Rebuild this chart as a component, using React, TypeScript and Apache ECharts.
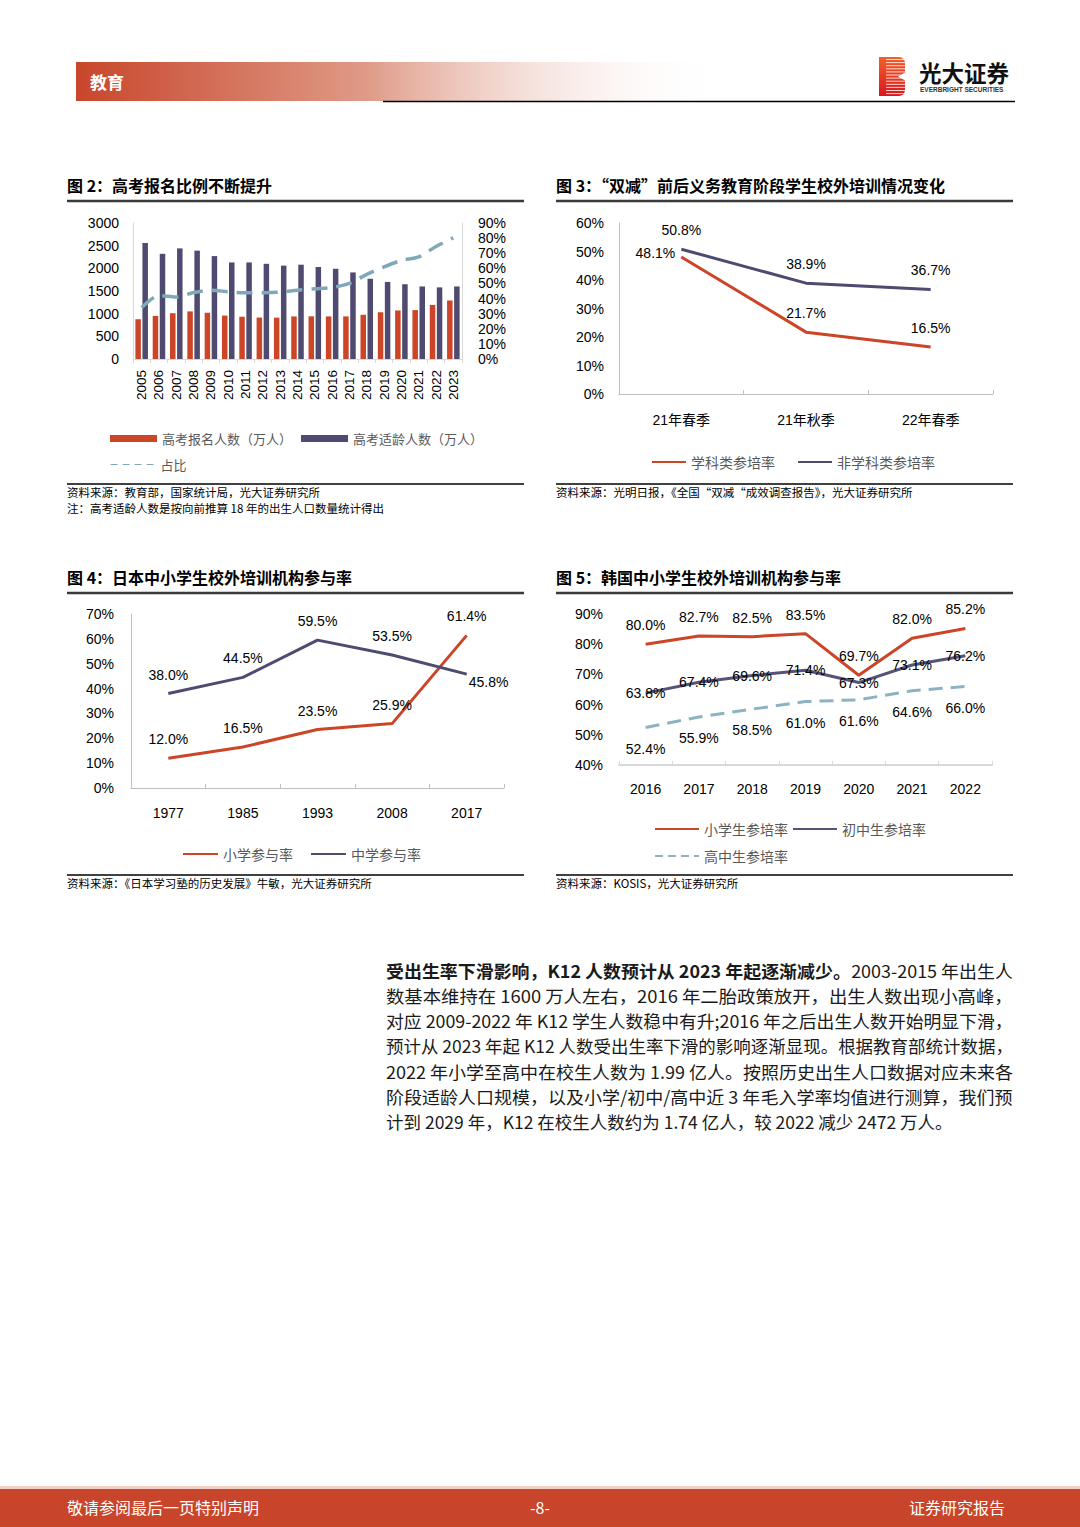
import React, { useEffect, useRef } from "react";
import * as echarts from "echarts";

// ---------- Figure 2 data ----------
const years = ["2005","2006","2007","2008","2009","2010","2011","2012","2013","2014","2015","2016","2017","2018","2019","2020","2021","2022","2023"];
const applicants = [877, 950, 1010, 1050, 1020, 957, 933, 915, 912, 939, 942, 940, 940, 975, 1031, 1071, 1078, 1193, 1291];
const ageCohort = [2560, 2320, 2440, 2390, 2270, 2130, 2130, 2100, 2060, 2080, 2030, 1990, 1910, 1770, 1700, 1650, 1600, 1580, 1600];
const ratio = [34, 42, 41, 44, 45.5, 44.5, 43.8, 43.8, 44.2, 45.5, 46.5, 47.3, 50, 56, 61, 65.2, 67.6, 74.5, 80.2];
const fig2LeftTicks = { min: 0, max: 3000, interval: 500 };
const fig2RightTicks = { min: 0, max: 90, interval: 10 };

// ---------- Figure 3 data ----------
const seasons = ["21年春季", "21年秋季", "22年春季"];
const subjectRate = [48.1, 21.7, 16.5];
const nonSubjectRate = [50.8, 38.9, 36.7];

// ---------- Figure 4 data ----------
const jpYears = ["1977", "1985", "1993", "2008", "2017"];
const jpPrimary = [12.0, 16.5, 23.5, 25.9, 61.4];
const jpSecondary = [38.0, 44.5, 59.5, 53.5, 45.8];

// ---------- Figure 5 data ----------
const krYears = ["2016", "2017", "2018", "2019", "2020", "2021", "2022"];
const krPrimary = [80.0, 82.7, 82.5, 83.5, 69.7, 82.0, 85.2];
const krMiddle = [63.8, 67.4, 69.6, 71.4, 67.3, 73.1, 76.2];
const krHigh = [52.4, 55.9, 58.5, 61.0, 61.6, 64.6, 66.0];

// ---------- Page text ----------
const paragraphBold = "受出生率下滑影响，K12 人数预计从 2023 年起逐渐减少。";
const paragraphLines = [
  "2003-2015 年出生人",
  "数基本维持在 1600 万人左右，2016 年二胎政策放开，出生人数出现小高峰，",
  "对应 2009-2022 年 K12 学生人数稳中有升;2016 年之后出生人数开始明显下滑，",
  "预计从 2023 年起 K12 人数受出生率下滑的影响逐渐显现。根据教育部统计数据，",
  "2022 年小学至高中在校生人数为 1.99 亿人。按照历史出生人口数据对应未来各",
  "阶段适龄人口规模，以及小学/初中/高中近 3 年毛入学率均值进行测算，我们预",
  "计到 2029 年，K12 在校生人数约为 1.74 亿人，较 2022 减少 2472 万人。",
];

const RED = "#cc4527";
const PURPLE = "#4f4a70";
const TEAL = "#7fa9bb";
const FONT = "'Liberation Sans', Arial, 'Noto Sans CJK SC', sans-serif";
const CJK = "'Noto Sans CJK SC', 'Liberation Sans', sans-serif";
const PARA_SIZE = 17.5;
const PARA_WIDTH = 627;

const pct = (p: any) => Number(p.value).toFixed(1) + "%";

function txt(x: number, y: number, text: string, o: any = {}) {
  return {
    type: "text",
    x,
    y,
    scaleX: o.scaleX || 1,
    silent: true,
    style: {
      text,
      fill: o.fill || "#000",
      fontSize: o.fontSize || 12,
      fontWeight: o.fontWeight || "normal",
      fontFamily: o.fontFamily || CJK,
      align: o.align || "left",
      verticalAlign: "middle",
      textAlign: o.align || "left",
      textVerticalAlign: "middle",
      rich: o.rich,
    },
  };
}
function hline(x1: number, x2: number, y: number, w: number, c: string) {
  return { type: "line", silent: true, shape: { x1, y1: y, x2, y2: y }, style: { stroke: c, lineWidth: w } };
}

function valueAxis(grid: number, min: number, max: number, interval: number, o: any = {}) {
  return {
    type: "value",
    gridIndex: grid,
    min,
    max,
    interval,
    position: o.position || "left",
    axisLine: { show: o.line !== false, lineStyle: { color: o.lineColor || "#bfbfbf", width: 1 } },
    axisTick: { show: false },
    splitLine: { show: false },
    axisLabel: {
      fontSize: 14,
      color: "#000",
      fontFamily: FONT,
      margin: o.margin || 15,
      formatter: (v: number) => (o.percent ? v + "%" : String(v)),
    },
  };
}
function catAxis(grid: number, data: string[], o: any = {}) {
  return {
    type: "category",
    gridIndex: grid,
    data,
    boundaryGap: true,
    axisLine: { lineStyle: { color: o.lineColor || "#bfbfbf", width: o.lineWidth || 1 } },
    axisTick: { show: true, inside: o.tickInside !== false, length: 4, lineStyle: { color: o.lineColor || "#bfbfbf" } },
    axisLabel: {
      fontSize: o.fontSize || 14,
      color: "#000",
      fontFamily: FONT,
      margin: o.margin || 18,
      rotate: o.rotate || 0,
      interval: 0,
    },
  };
}
function lineSeries(name: string, x: number, y: number, data: any[], color: string, o: any = {}) {
  return {
    type: "line",
    name,
    xAxisIndex: x,
    yAxisIndex: y,
    data,
    symbol: o.noLabel ? "none" : "circle",
    symbolSize: 0.1,
    showSymbol: !o.noLabel,
    smooth: o.smooth || false,
    z: 5,
    lineStyle: { color, width: o.width || 3, type: o.dash || "solid" },
    itemStyle: { color },
    label: o.noLabel
      ? { show: false }
      : {
          show: true,
          position: o.pos || "top",
          distance: o.distance ?? 12,
          formatter: pct,
          fontSize: 14,
          color: "#000",
          fontFamily: FONT,
        },
  };
}
function legendBox(left: number, top: number, names: any[], o: any = {}) {
  const lg: any = {
    left,
    top,
    padding: 0,
    orient: "horizontal",
    selectedMode: false,
    itemWidth: o.itemWidth || 35,
    itemHeight: o.itemHeight || 10,
    itemGap: o.itemGap ?? 15,
    data: names,
    textStyle: { fontSize: o.fontSize || 14, color: "#595959", fontFamily: CJK },
  };
  if (o.lineStyle) lg.lineStyle = o.lineStyle;
  if (!o.bars) lg.itemStyle = { opacity: 0 };
  return lg;
}

function measure(text: string, weight: string) {
  const c = document.createElement("canvas").getContext("2d")!;
  c.font = `${weight} ${PARA_SIZE}px 'Noto Sans CJK SC'`;
  return c.measureText(text).width;
}

export default function App() {
  const ref = useRef<HTMLDivElement>(null);
  useEffect(() => {
    document.body.style.margin = "0";
    const chart = echarts.init(ref.current!, null, { renderer: "svg" });

    const headerGrad = new echarts.graphic.LinearGradient(0, 0, 1, 0, [
      { offset: 0, color: "#c8462b" },
      { offset: 0.45, color: "#df9b88" },
      { offset: 1, color: "rgba(255,255,255,0)" },
    ]);
    const logoGrad = new echarts.graphic.LinearGradient(0, 0, 0, 1, [
      { offset: 0, color: "#f2612a" },
      { offset: 1, color: "#d9161c" },
    ]);
    const stripes: any[] = [];
    for (let i = 0; i < 12; i++) {
      stripes.push({ type: "rect", shape: { x: 7, y: 2 + i * 3.1, width: 20, height: 1 }, style: { fill: "rgba(255,255,255,0.8)" } });
    }

    // paragraph: stretch each full line to the column width (justified look)
    const paraEls = paragraphLines.map((l, i) => {
      const isFirst = i === 0;
      const isLast = i === paragraphLines.length - 1;
      const w = isFirst ? measure(paragraphBold, "bold") + measure(l, "normal") : measure(l, "normal");
      const sx = isLast || !w ? 1 : Math.min(1.08, PARA_WIDTH / w);
      const text = isFirst ? `{b|${paragraphBold}}${l}` : l;
      return txt(386, 970 + i * 25.2, text, {
        fontSize: PARA_SIZE,
        fill: "#1a1a1a",
        scaleX: sx,
        rich: { b: { fontWeight: "bold", fontSize: PARA_SIZE, fontFamily: CJK, fill: "#1a1a1a" } },
      });
    });

    const graphics: any[] = [
      // header
      { type: "rect", silent: true, shape: { x: 76, y: 62, width: 650, height: 39 }, style: { fill: headerGrad } },
      txt(90, 81, "教育", { fill: "#fff", fontSize: 17, fontWeight: "bold" }),
      hline(383, 1015, 101.5, 1.5, "#000"),
      {
        type: "group",
        x: 879,
        y: 57,
        silent: true,
        children: [
          { type: "rect", shape: { x: 0, y: 0, width: 26, height: 39, r: [0, 6, 6, 0] }, style: { fill: logoGrad } },
          ...stripes,
          { type: "polygon", shape: { points: [[27, 15], [19, 19.5], [27, 24]] }, style: { fill: "#fff" } },
        ],
      },
      txt(919, 72, "光大证券", { fontSize: 22.5, fontWeight: "bold", fill: "#111" }),
      txt(920, 89.5, "EVERBRIGHT SECURITIES", { fontSize: 6.5, fontWeight: "bold", fill: "#333", fontFamily: FONT }),

      // figure titles
      txt(67, 185, "图 2：高考报名比例不断提升", { fontSize: 16, fontWeight: "bold" }),
      hline(67, 524, 201, 2.5, "#3a3a3a"),
      txt(556, 185, "图 3：“双减”前后义务教育阶段学生校外培训情况变化", { fontSize: 16, fontWeight: "bold" }),
      hline(556, 1013, 201, 2.5, "#3a3a3a"),
      txt(67, 577, "图 4：日本中小学生校外培训机构参与率", { fontSize: 16, fontWeight: "bold" }),
      hline(67, 524, 593, 2.5, "#3a3a3a"),
      txt(556, 577, "图 5：韩国中小学生校外培训机构参与率", { fontSize: 16, fontWeight: "bold" }),
      hline(556, 1013, 593, 2.5, "#3a3a3a"),

      // sources
      hline(67, 524, 484, 1.5, "#000"),
      txt(67, 492, "资料来源：教育部，国家统计局，光大证券研究所", { fontSize: 11.5 }),
      txt(67, 508, "注：高考适龄人数是按向前推算 18 年的出生人口数量统计得出", { fontSize: 11.5 }),
      hline(556, 1013, 484, 1.5, "#000"),
      txt(556, 492, "资料来源：光明日报，《全国“双减“成效调查报告》，光大证券研究所", { fontSize: 11.5 }),
      hline(67, 524, 875, 1.5, "#000"),
      txt(67, 883, "资料来源：《日本学习塾的历史发展》牛敏，光大证券研究所", { fontSize: 11.5 }),
      hline(556, 1013, 875, 1.5, "#000"),
      txt(556, 883, "资料来源：KOSIS，光大证券研究所", { fontSize: 11.5 }),

      ...paraEls,

      // footer
      { type: "rect", silent: true, shape: { x: 0, y: 1486, width: 1080, height: 3 }, style: { fill: "#f4cfc4" } },
      { type: "rect", silent: true, shape: { x: 0, y: 1489, width: 1080, height: 38 }, style: { fill: "#c8442a" } },
      txt(67, 1507, "敬请参阅最后一页特别声明", { fontSize: 16, fill: "#fff" }),
      txt(540, 1507, "-8-", { fontSize: 16, fill: "#fff", align: "center" }),
      txt(1005, 1507, "证券研究报告", { fontSize: 16, fill: "#fff", align: "right" }),
    ];

    const fig3Subject = subjectRate.map((v, i) =>
      i === 0 ? { value: v, label: { position: "left", distance: 6, offset: [0, -4] } } : { value: v }
    );
    const fig4Secondary = jpSecondary.map((v, i) =>
      i === jpSecondary.length - 1 ? { value: v, label: { position: "right", distance: 2, offset: [0, 8] } } : { value: v }
    );

    const option: any = {
      animation: false,
      backgroundColor: "#fff",
      grid: [
        { left: 133, top: 223, width: 329, height: 136 },
        { left: 619, top: 223, width: 374, height: 171 },
        { left: 131, top: 614, width: 373, height: 174 },
        { left: 619, top: 614, width: 373, height: 151 },
      ],
      xAxis: [
        catAxis(0, years, { rotate: 90, fontSize: 13.5, margin: 11, lineColor: "#d9d9d9", tickInside: false }),
        catAxis(1, seasons, { margin: 19 }),
        catAxis(2, jpYears, { margin: 18 }),
        catAxis(3, krYears, { margin: 17, lineColor: "#d9d9d9", lineWidth: 2 }),
      ],
      yAxis: [
        valueAxis(0, fig2LeftTicks.min, fig2LeftTicks.max, fig2LeftTicks.interval, { margin: 14, lineColor: "#d9d9d9" }),
        valueAxis(0, fig2RightTicks.min, fig2RightTicks.max, fig2RightTicks.interval, { percent: true, position: "right", margin: 16, lineColor: "#d9d9d9" }),
        valueAxis(1, 0, 60, 10, { percent: true, margin: 15 }),
        valueAxis(2, 0, 70, 10, { percent: true, margin: 17 }),
        valueAxis(3, 40, 90, 10, { percent: true, margin: 16, line: false }),
      ],
      legend: [
        legendBox(110, 432, [{ name: "高考报名人数（万人）", icon: "rect" }, { name: "高考适龄人数（万人）", icon: "rect" }], {
          itemWidth: 47, itemHeight: 7, itemGap: 9, fontSize: 13, bars: true,
        }),
        legendBox(110, 458, ["占比"], { itemWidth: 45, fontSize: 13, lineStyle: { width: 1.2, type: [7, 5], color: TEAL } }),
        legendBox(651, 455, ["学科类参培率", "非学科类参培率"], { itemWidth: 34, itemGap: 22, lineStyle: { width: 2 } }),
        legendBox(182, 847, ["小学参与率", "中学参与率"], { itemWidth: 35, itemGap: 17, lineStyle: { width: 2 } }),
        legendBox(654, 822, ["小学生参培率", "初中生参培率"], { itemWidth: 44, itemGap: 4, lineStyle: { width: 2 } }),
        legendBox(654, 849, ["高中生参培率"], { itemWidth: 44, lineStyle: { width: 2, type: [8, 5] } }),
      ],
      series: [
        {
          type: "bar",
          name: "高考报名人数（万人）",
          xAxisIndex: 0,
          yAxisIndex: 0,
          data: applicants,
          barWidth: 5.5,
          barGap: "28%",
          itemStyle: { color: RED },
        },
        {
          type: "bar",
          name: "高考适龄人数（万人）",
          xAxisIndex: 0,
          yAxisIndex: 0,
          data: ageCohort,
          barWidth: 5.5,
          barGap: "28%",
          itemStyle: { color: PURPLE },
        },
        lineSeries("占比", 0, 1, ratio, TEAL, { width: 3.5, dash: [16, 9], smooth: 0.3, noLabel: true }),
        lineSeries("学科类参培率", 1, 2, fig3Subject, RED, { width: 3 }),
        lineSeries("非学科类参培率", 1, 2, nonSubjectRate, PURPLE, { width: 3 }),
        lineSeries("小学参与率", 2, 3, jpPrimary, RED, { width: 3 }),
        lineSeries("中学参与率", 2, 3, fig4Secondary, PURPLE, { width: 3 }),
        lineSeries("小学生参培率", 3, 4, krPrimary, RED, { width: 3 }),
        lineSeries("初中生参培率", 3, 4, krMiddle, "#56527a", { width: 3, pos: "inside" }),
        lineSeries("高中生参培率", 3, 4, krHigh, "#8db3c3", { width: 3, dash: [14, 8], pos: "bottom", distance: 14 }),
      ],
      graphic: { elements: graphics },
    };
    chart.setOption(option);
    return () => chart.dispose();
  }, []);
  return (
    <div
      ref={ref}
      style={{ position: "absolute", left: 0, top: 0, width: 1080, height: 1527, background: "#fff" }}
    />
  );
}
